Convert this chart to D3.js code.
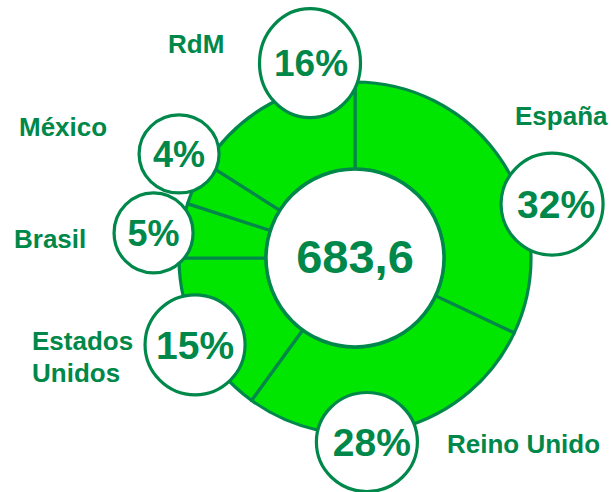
<!DOCTYPE html>
<html><head><meta charset="utf-8">
<script src="https://cdn.jsdelivr.net/npm/d3@7"></script>
<style>
html,body{margin:0;padding:0;background:#fff;}
svg{display:block;}
text{font-family:"Liberation Sans",Arial,sans-serif;font-weight:bold;}
</style></head>
<body>
<svg id="chart" width="611" height="492"></svg>
<script>
// ---- data ----
const categories = ["España", "Reino Unido", "Estados Unidos", "Brasil", "México", "RdM"];
const shares = [32, 28, 15, 5, 4, 16];
const shareLabels = ["32%", "28%", "15%", "5%", "4%", "16%"];
const totalLabel = "683,6";

// ---- layout (positions of annotation bubbles & names, not data) ----
const bubbleAngle = [74.7, 176.3, 241.5, 277.1, 300.6, 347];   // degrees clockwise from top
const bubbleDist  = [204.3, 184.4, 182, 203, 204.4, 200];
const bubbleRx    = [51, 50.5, 50, 39.5, 40, 50.5];
const bubbleRy    = [51, 49.5, 50, 40, 39, 54.5];
const bubbleFont  = [39, 39, 39, 36, 36, 37];
const bubbleTextDx = [4, 5, 0, 0, 0, 1];
const nameLines   = [["España"], ["Reino Unido"], ["Estados", "Unidos"], ["Brasil"], ["México"], ["RdM"]];
const namePos     = [[515,125],[447,453],[32,350],[14,248],[19,136],[168,53]];

const cx = 355, cy = 258;
const rInner = 89, rOuter = 176;
const fillGreen = "#00e600", dark = "#00884a";

const svg = d3.select("#chart");
const g = svg.append("g").attr("transform", `translate(${cx},${cy})`);

const pie = d3.pie().sort(null).value(d => d)(shares);
const arc = d3.arc().innerRadius(rInner).outerRadius(rOuter);

g.selectAll("path.slice").data(pie).join("path")
  .attr("class","slice")
  .attr("d", arc)
  .attr("fill", fillGreen)
  .attr("stroke", dark)
  .attr("stroke-width", 3.2)
  .attr("stroke-linejoin","round");

// inner white circle
g.append("circle").attr("r", rInner).attr("fill","#fff").attr("stroke",dark).attr("stroke-width",3.5);
g.append("text").attr("x",0).attr("y",15).attr("text-anchor","middle")
  .attr("font-size",47).attr("fill",dark).text(totalLabel);

// bubbles
const rad = d => d * Math.PI / 180;
const bubbles = g.selectAll("g.bubble").data(shares).join("g")
  .attr("class","bubble")
  .attr("transform",(d,i)=>`translate(${bubbleDist[i]*Math.sin(rad(bubbleAngle[i]))},${-bubbleDist[i]*Math.cos(rad(bubbleAngle[i]))})`);
bubbles.append("ellipse")
  .attr("rx",(d,i)=>bubbleRx[i]).attr("ry",(d,i)=>bubbleRy[i])
  .attr("fill","#fff").attr("stroke",dark).attr("stroke-width",3.2);
bubbles.append("text")
  .attr("text-anchor","middle")
  .attr("x",(d,i)=>bubbleTextDx[i])
  .attr("y",(d,i)=>bubbleFont[i]*0.36)
  .attr("font-size",(d,i)=>bubbleFont[i])
  .attr("fill",dark)
  .text((d,i)=>shareLabels[i]);

// category names
const names = svg.selectAll("text.name").data(categories).join("text")
  .attr("class","name")
  .attr("x",(d,i)=>namePos[i][0]).attr("y",(d,i)=>namePos[i][1])
  .attr("font-size",26).attr("fill",dark);
names.each(function(d,i){
  const t = d3.select(this);
  nameLines[i].forEach((line,j)=>{
    t.append("tspan").attr("x",namePos[i][0]).attr("dy", j===0?0:31.5).text(line);
  });
});
</script>
</body></html>
